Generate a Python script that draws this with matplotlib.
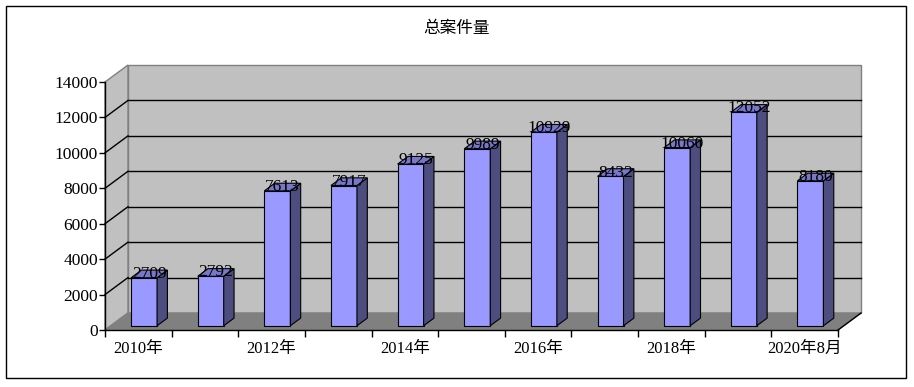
import matplotlib
matplotlib.use('Agg')
import matplotlib.pyplot as plt
from matplotlib.patches import Polygon, Rectangle

# data
categories = ['2010年', '2011年', '2012年', '2013年', '2014年', '2015年',
              '2016年', '2017年', '2018年', '2019年', '2020年8月']
cases = [2709, 2792, 7613, 7917, 9125, 9989, 10929, 8432, 10060, 12052, 8180]
y_ticks = [0, 2000, 4000, 6000, 8000, 10000, 12000, 14000]

SERIF = ['Liberation Serif', 'Noto Sans CJK SC']
CJK = ['Noto Sans CJK SC', 'DejaVu Sans']

fig = plt.figure(figsize=(9.14, 3.87), dpi=100)
fig.patch.set_facecolor('white')
ax = fig.add_axes([105 / 914, 57 / 387, 733 / 914, 248 / 387])
ax.patch.set_visible(False)

n = len(cases)
ymax = y_ticks[-1]
ax.set_xlim(-0.5, n - 0.5)
ax.set_ylim(0, ymax)

# depth of the 3d box, in pixels -> data units
p0 = ax.transData.transform((0, 0))
q = ax.transData.inverted().transform((p0[0] + 23, p0[1] + 17))
DX, DY = q[0], q[1]


def shift(x, y, d):
    return (x + d * DX, y + d * DY)


def face(pts, fc, ec='black', lw=0.8, z=1):
    ax.add_patch(Polygon(pts, closed=True, facecolor=fc, edgecolor=ec,
                         linewidth=lw, zorder=z, clip_on=False))


x_lo, x_hi = -0.5, n - 0.5

# walls and floor
face([shift(x_lo, 0, 1), shift(x_hi, 0, 1), shift(x_hi, ymax, 1), shift(x_lo, ymax, 1)],
     '#C0C0C0', ec='#808080', lw=1, z=0)
face([(x_lo, 0), shift(x_lo, 0, 1), shift(x_lo, ymax, 1), (x_lo, ymax)],
     '#C0C0C0', ec='#808080', lw=1, z=0)
face([(x_lo, 0), (x_hi, 0), shift(x_hi, 0, 1), shift(x_lo, 0, 1)],
     '#808080', ec='#808080', lw=1, z=0.5)

# gridlines on back and side walls
for v in y_ticks[1:-1]:
    a, b = shift(x_lo, v, 1), shift(x_hi, v, 1)
    ax.plot([a[0], b[0]], [a[1], b[1]], color='black', lw=1, zorder=0.6, clip_on=False)
    ax.plot([x_lo, a[0]], [v, a[1]], color='black', lw=1, zorder=0.6, clip_on=False)
e = shift(x_hi, 0, 1)
ax.plot([x_hi, e[0]], [0, e[1]], color='black', lw=1, zorder=0.6, clip_on=False)

# bars
w = 0.39
d0, d1 = 0.25, 0.7
for i, v in enumerate(cases):
    x0, x1 = i - w / 2, i + w / 2
    face([shift(x0, 0, d0), shift(x1, 0, d0), shift(x1, v, d0), shift(x0, v, d0)], '#9999FF', z=2)
    face([shift(x1, 0, d0), shift(x1, 0, d1), shift(x1, v, d1), shift(x1, v, d0)], '#4D4D80', z=2)
    face([shift(x0, v, d0), shift(x1, v, d0), shift(x1, v, d1), shift(x0, v, d1)], '#7777CC', z=2)
    tx, ty = shift(i, v, (d0 + d1) / 2)
    ax.text(tx, ty, str(v), ha='center', va='center', fontsize=12.5,
            family=SERIF, color='black', zorder=5)

# axes
for s in ['top', 'right']:
    ax.spines[s].set_visible(False)
for s in ['left', 'bottom']:
    ax.spines[s].set_color('black')
    ax.spines[s].set_linewidth(1)
    ax.spines[s].set_zorder(3)

ax.set_yticks(y_ticks)
ax.set_yticklabels([str(t) for t in y_ticks], family=SERIF, fontsize=12.5)
ax.tick_params(axis='y', direction='out', length=4, width=1, pad=1)

ax.set_xticks(range(n))
ax.set_xticklabels([c if i % 2 == 0 else '' for i, c in enumerate(categories)],
                   family=SERIF, fontsize=12)
ax.set_xticks([i - 0.5 for i in range(n + 1)], minor=True)
ax.tick_params(axis='x', which='major', length=0, pad=8)
ax.tick_params(axis='x', which='minor', direction='out', length=5, width=1)

fig.text(0.5, 1 - 28 / 387, '总案件量', ha='center', va='center',
         family=CJK, fontsize=12)

fig.patches.append(Rectangle((6 / 914, 9 / 387), 900 / 914, 372 / 387,
                             transform=fig.transFigure, fill=False,
                             edgecolor='black', linewidth=1))

fig.savefig('out.png', dpi=100)
